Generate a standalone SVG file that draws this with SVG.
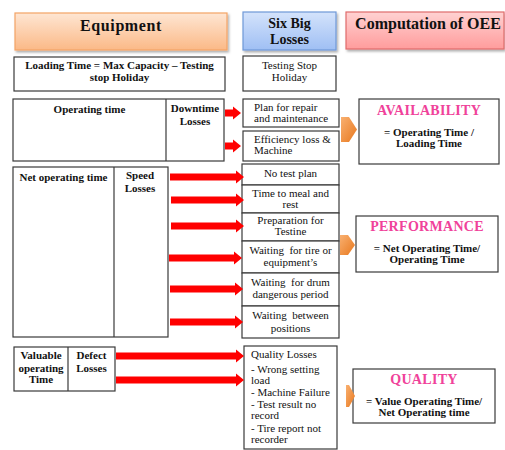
<svg xmlns="http://www.w3.org/2000/svg" width="505" height="450" viewBox="0 0 505 450" font-family="Liberation Serif, Times New Roman, serif">
  <defs>
    <linearGradient id="gOrange" x1="0" y1="0" x2="0" y2="1">
      <stop offset="0" stop-color="#fee6d3"/>
      <stop offset="1" stop-color="#fbb987"/>
    </linearGradient>
    <linearGradient id="gBlue" x1="0" y1="0" x2="0" y2="1">
      <stop offset="0" stop-color="#d4e3fb"/>
      <stop offset="1" stop-color="#9fbff4"/>
    </linearGradient>
    <linearGradient id="gRed" x1="0" y1="0" x2="0" y2="1">
      <stop offset="0" stop-color="#ffd2d2"/>
      <stop offset="1" stop-color="#ff9c9c"/>
    </linearGradient>
    <linearGradient id="gChevron" x1="0" y1="0" x2="1" y2="1">
      <stop offset="0" stop-color="#f9b070"/>
      <stop offset="1" stop-color="#e8781e"/>
    </linearGradient>
    <filter id="shadow" x="-10%" y="-20%" width="120%" height="150%">
      <feDropShadow dx="1.5" dy="2" stdDeviation="1" flood-color="#000" flood-opacity="0.3"/>
    </filter>
  </defs>
  <style>
    .box { fill: #ffffff; stroke: #3a3a3a; stroke-width: 1.2; }
    .div { stroke: #3a3a3a; stroke-width: 1.2; }
    .hdr { font-weight: bold; fill: #111; text-anchor: middle; }
    .t { font-size: 11px; fill: #111; }
    .c { text-anchor: middle; }
    .b { font-weight: bold; }
    .kpi { font-weight: bold; font-size: 14px; fill: #f0429a; text-anchor: middle; letter-spacing: 0.3px; }
    .arrow { fill: #ff0000; }
    .chev { fill: url(#gChevron); }
  </style>

  <!-- column headers -->
  <g id="hdr-equipment">
    <rect x="15" y="13" width="212" height="37" fill="url(#gOrange)" stroke="#f4a466" stroke-width="1.2" filter="url(#shadow)"/>
    <text class="hdr" x="121" y="31" font-size="16" letter-spacing="0.6">Equipment</text>
  </g>
  <g id="hdr-losses">
    <rect x="243" y="12" width="93" height="38" fill="url(#gBlue)" stroke="#6f98d8" stroke-width="1.2" filter="url(#shadow)"/>
    <text class="hdr" x="289.5" y="28" font-size="14">Six Big</text>
    <text class="hdr" x="289.5" y="44" font-size="14">Losses</text>
  </g>
  <g id="hdr-oee">
    <rect x="346" y="12" width="158" height="37" fill="url(#gRed)" stroke="#e06c6c" stroke-width="1.2" filter="url(#shadow)"/>
    <text class="hdr" x="428" y="29" font-size="16">Computation of OEE</text>
  </g>

  <!-- loading time row -->
  <g id="loading-time">
    <rect class="box" x="14" y="57" width="211" height="34"/>
    <text class="t b c" x="119.5" y="69">Loading Time = Max Capacity – Testing</text>
    <text class="t b c" x="119.5" y="81">stop Holiday</text>
  </g>
  <g id="testing-stop">
    <rect class="box" x="243" y="56" width="93" height="35"/>
    <text class="t c" x="289.5" y="69">Testing Stop</text>
    <text class="t c" x="289.5" y="81">Holiday</text>
  </g>

  <!-- availability block -->
  <g id="operating-time">
    <rect class="box" x="13" y="99" width="211" height="62"/>
    <line class="div" x1="166" y1="99" x2="166" y2="161"/>
    <text class="t b c" x="89.5" y="113">Operating time</text>
    <text class="t b c" x="195" y="112">Downtime</text>
    <text class="t b c" x="195" y="125">Losses</text>
  </g>
  <g id="plan-repair">
    <rect class="box" x="243" y="99" width="96" height="28"/>
    <text class="t" x="254" y="111">Plan for repair</text>
    <text class="t" x="254" y="122">and maintenance</text>
  </g>
  <g id="efficiency-loss">
    <rect class="box" x="243" y="131" width="96" height="30"/>
    <text class="t" x="254" y="143">Efficiency loss &amp;</text>
    <text class="t" x="254" y="154">Machine</text>
  </g>
  <g id="availability">
    <rect class="box" x="359" y="99" width="140" height="65"/>
    <text class="kpi" x="429" y="115">AVAILABILITY</text>
    <text class="t b c" x="429" y="136">= Operating Time /</text>
    <text class="t b c" x="429" y="147">Loading Time</text>
  </g>

  <!-- performance block -->
  <g id="net-operating-time">
    <rect class="box" x="13" y="167" width="155" height="170"/>
    <line class="div" x1="114" y1="167" x2="114" y2="337"/>
    <text class="t b c" x="63.5" y="181">Net operating time</text>
    <text class="t b c" x="140" y="179">Speed</text>
    <text class="t b c" x="140" y="192">Losses</text>
  </g>
  <g id="speed-losses">
    <rect class="box" x="242" y="164" width="97" height="21"/>
    <text class="t c" x="290.5" y="177">No test plan</text>
    <rect class="box" x="242" y="185" width="97" height="28"/>
    <text class="t c" x="290.5" y="197">Time to meal and</text>
    <text class="t c" x="290.5" y="208">rest</text>
    <rect class="box" x="242" y="213" width="97" height="28"/>
    <text class="t c" x="290.5" y="224">Preparation for</text>
    <text class="t c" x="290.5" y="235">Testine</text>
    <rect class="box" x="242" y="241" width="97" height="32"/>
    <text class="t c" x="290.5" y="254" xml:space="preserve">Waiting  for tire or</text>
    <text class="t c" x="290.5" y="266">equipment’s</text>
    <rect class="box" x="242" y="273" width="97" height="33"/>
    <text class="t c" x="290.5" y="286" xml:space="preserve">Waiting  for drum</text>
    <text class="t c" x="290.5" y="298">dangerous period</text>
    <rect class="box" x="242" y="306" width="97" height="32"/>
    <text class="t c" x="290.5" y="319" xml:space="preserve">Waiting  between</text>
    <text class="t c" x="290.5" y="332">positions</text>
  </g>
  <g id="performance">
    <rect class="box" x="356" y="216" width="142" height="56"/>
    <text class="kpi" x="427" y="231">PERFORMANCE</text>
    <text class="t b c" x="427" y="252">= Net Operating Time/</text>
    <text class="t b c" x="427" y="263">Operating Time</text>
  </g>

  <!-- quality block -->
  <g id="valuable-time">
    <rect class="box" x="14" y="347" width="101" height="44"/>
    <line class="div" x1="68" y1="347" x2="68" y2="391"/>
    <text class="t b c" x="41" y="359">Valuable</text>
    <text class="t b c" x="41" y="372">operating</text>
    <text class="t b c" x="41" y="383">Time</text>
    <text class="t b c" x="91.5" y="359">Defect</text>
    <text class="t b c" x="91.5" y="372">Losses</text>
  </g>
  <g id="quality-losses">
    <rect class="box" x="244" y="346" width="93" height="103"/>
    <text class="t" x="251" y="358">Quality Losses</text>
    <text class="t" x="251" y="373">- Wrong setting</text>
    <text class="t" x="251" y="384">load</text>
    <text class="t" x="251" y="396">- Machine Failure</text>
    <text class="t" x="251" y="408">- Test result no</text>
    <text class="t" x="251" y="419">record</text>
    <text class="t" x="251" y="432">- Tire report not</text>
    <text class="t" x="251" y="443">recorder</text>
  </g>
  <g id="quality">
    <rect class="box" x="353" y="369" width="142" height="54"/>
    <text class="kpi" x="424" y="384">QUALITY</text>
    <text class="t b c" x="424" y="405">= Value Operating Time/</text>
    <text class="t b c" x="424" y="416">Net Operating time</text>
  </g>

  <!-- connectors -->
  <g id="connectors">
    <!-- downtime losses -->
    <polygon class="arrow" points="225,109.5 233,109.5 233,106.5 241,113 233,119.5 233,116.5 225,116.5"/>
    <polygon class="arrow" points="225,142.5 233,142.5 233,139.5 241,146 233,152.5 233,149.5 225,149.5"/>
    <!-- speed losses -->
    <polygon class="arrow" points="170,173.5 236,173.5 236,170.5 244,177 236,183.5 236,180.5 170,180.5"/>
    <polygon class="arrow" points="171,196.5 236,196.5 236,193.5 244,200 236,206.5 236,203.5 171,203.5"/>
    <polygon class="arrow" points="171,222.5 236,222.5 236,219.5 244,226 236,232.5 236,229.5 171,229.5"/>
    <polygon class="arrow" points="169,254.5 234,254.5 234,251.5 242,258 234,264.5 234,261.5 169,261.5"/>
    <polygon class="arrow" points="170,285.5 235,285.5 235,282.5 243,289 235,295.5 235,292.5 170,292.5"/>
    <polygon class="arrow" points="170,318.5 235,318.5 235,315.5 243,322 235,328.5 235,325.5 170,325.5"/>
    <!-- defect losses -->
    <polygon class="arrow" points="116,352.5 236,352.5 236,349.5 244,356 236,362.5 236,359.5 116,359.5"/>
    <polygon class="arrow" points="116,376.5 236,376.5 236,373.5 244,380 236,386.5 236,383.5 116,383.5"/>
    <!-- to OEE computations -->
    <polygon class="chev" points="341,117 349,117 357,129.5 349,142 341,142"/>
    <polygon class="chev" points="340,235 348,235 355,245 348,255 340,255"/>
    <polygon class="chev" points="346,385 349,385 355,396 349,407 346,407"/>
  </g>
</svg>
